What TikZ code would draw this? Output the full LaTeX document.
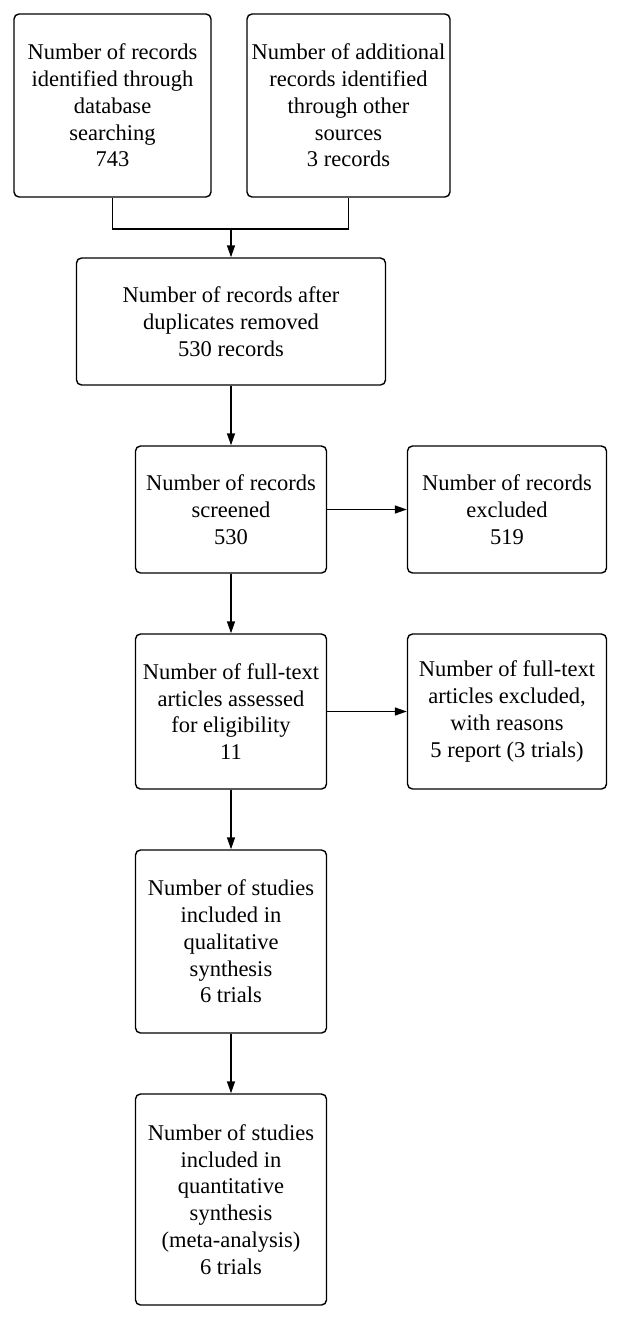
\documentclass[tikz,border=0pt]{standalone}
\usepackage{fontspec}
\setmainfont{Liberation Serif}
\usetikzlibrary{arrows.meta, positioning}

\tikzset{
  box/.style = {draw, rounded corners=5pt, line width=1.4pt, align=center,
    inner sep=2pt, font=\fontsize{22.5}{26.7}\selectfont},
  link/.style = {-{Triangle[length=12pt, width=8pt]}, line width=1.4pt},
}

\begin{document}
\begin{tikzpicture} [x=1pt, y=1pt, on grid]
\useasboundingbox (0,0) rectangle (621,-1320);

% identification
\node (dbsearch) [box, minimum width=197pt, minimum height=183pt] at (112.5,-105.5)
  {Number of records\\identified through\\database\\searching\\743};
\node (othersrc) [box, minimum width=203pt, minimum height=183pt] at (348.5,-105.5)
  {Number of additional\\records identified\\through other\\sources\\3 records};
\coordinate (join) at (231,-229);

% screening
\node (dedup) [box, minimum width=309pt, minimum height=127pt] at (231,-321.5)
  {Number of records after\\duplicates removed\\530 records};
\node (screened) [box, minimum width=191pt, minimum height=127pt, below = 188pt of dedup]
  {Number of records\\screened\\530};
\node (excluded) [box, minimum width=199pt, minimum height=127pt, right = 276pt of screened]
  {Number of records\\excluded\\519};

% eligibility
\node (fulltext) [box, minimum width=191pt, minimum height=155pt, below = 202pt of screened]
  {Number of full-text\\articles assessed\\for eligibility\\11};
\node (ftexcl) [box, minimum width=199pt, minimum height=155pt, right = 276pt of fulltext]
  {Number of full-text\\articles excluded,\\with reasons\\5 report (3 trials)};

% included
\node (qualit) [box, minimum width=191pt, minimum height=183pt, below = 230pt of fulltext]
  {Number of studies\\included in\\qualitative\\synthesis\\6 trials};
\node (quantit) [box, minimum width=191pt, minimum height=211pt, below = 258pt of qualit]
  {Number of studies\\included in\\quantitative\\synthesis\\(meta-analysis)\\6 trials};

\draw [line width=1.4pt] (dbsearch.south) |- (join) -| (othersrc.south);
\draw [link] (join) -- (dedup);
\draw [link] (dedup) -- (screened);
\draw [link] (screened) -- (excluded);
\draw [link] (screened) -- (fulltext);
\draw [link] (fulltext) -- (ftexcl);
\draw [link] (fulltext) -- (qualit);
\draw [link] (qualit) -- (quantit);
\end{tikzpicture}
\end{document}
